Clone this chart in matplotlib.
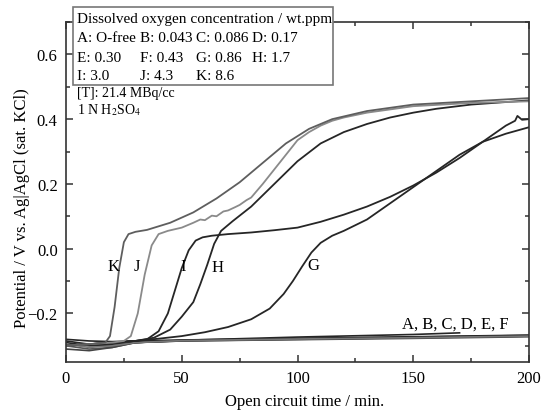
import matplotlib
matplotlib.use('agg')
import matplotlib.pyplot as plt
from matplotlib.patches import Rectangle
from matplotlib.ticker import MultipleLocator

plt.rcParams['font.family'] = ['Liberation Serif', 'DejaVu Serif']
plt.rcParams['mathtext.fontset'] = 'stix'

# curve data (time in min, potential in V)
k_t = [0, 10, 17, 19, 21, 23, 25, 27, 30, 35, 45, 55, 65, 75, 85, 95, 105, 115, 130, 150, 175, 200]
k_v = [-0.30, -0.295, -0.29, -0.27, -0.18, -0.06, 0.02, 0.045, 0.052, 0.058, 0.08, 0.112, 0.155,
       0.205, 0.265, 0.325, 0.37, 0.40, 0.425, 0.445, 0.455, 0.465]

j_t = [0, 10, 20, 25, 28, 31, 34, 37, 40, 44, 50, 55, 58, 60, 63, 65, 68, 70, 73, 75, 78, 80, 85,
       90, 95, 100, 105, 110, 115, 120, 130, 150, 175, 200]
j_v = [-0.30, -0.295, -0.29, -0.285, -0.27, -0.2, -0.08, 0.01, 0.045, 0.055, 0.065, 0.08, 0.09,
       0.088, 0.102, 0.1, 0.115, 0.118, 0.128, 0.135, 0.15, 0.158, 0.2, 0.245, 0.29, 0.335, 0.36,
       0.38, 0.395, 0.405, 0.42, 0.44, 0.45, 0.455]

i_t = [0, 10, 20, 30, 35, 40, 44, 47, 50, 53, 56, 59, 63, 70, 80, 90, 100, 110, 120, 130, 140,
       150, 160, 170, 180, 190, 194, 195, 197, 200]
i_v = [-0.30, -0.295, -0.29, -0.285, -0.28, -0.255, -0.2, -0.13, -0.06, -0.005, 0.025, 0.035,
       0.04, 0.045, 0.05, 0.057, 0.065, 0.083, 0.105, 0.13, 0.16, 0.195, 0.235, 0.28, 0.33, 0.38,
       0.395, 0.41, 0.398, 0.40]

h_t = [0, 10, 20, 30, 38, 45, 50, 55, 58, 61, 64, 67, 72, 80, 90, 100, 110, 120, 130, 140, 150,
       160, 175, 200]
h_v = [-0.30, -0.295, -0.29, -0.285, -0.275, -0.25, -0.21, -0.165, -0.11, -0.05, 0.015, 0.055,
       0.085, 0.13, 0.2, 0.27, 0.325, 0.36, 0.385, 0.405, 0.42, 0.432, 0.445, 0.458]

g_t = [0, 10, 20, 30, 40, 50, 60, 70, 80, 88, 94, 98, 102, 106, 110, 115, 120, 130, 140, 150, 160,
       170, 180, 190, 200]
g_v = [-0.30, -0.295, -0.29, -0.285, -0.278, -0.27, -0.258, -0.242, -0.218, -0.185, -0.14, -0.1,
       -0.055, -0.012, 0.018, 0.04, 0.055, 0.09, 0.14, 0.19, 0.24, 0.29, 0.33, 0.355, 0.375]

flat_t = [0, 10, 20, 30, 50, 100, 150, 200]
a_v = [-0.28, -0.285, -0.287, -0.285, -0.282, -0.277, -0.272, -0.267]
b_v = [-0.30, -0.31, -0.305, -0.29, -0.285, -0.28, -0.275, -0.27]
c_v = [-0.285, -0.295, -0.295, -0.29, -0.284, -0.278, -0.273, -0.268]
d_t = [0, 10, 20, 30, 50, 100, 150, 170]
d_v = [-0.29, -0.30, -0.30, -0.29, -0.283, -0.273, -0.265, -0.26]
e_v = [-0.31, -0.315, -0.305, -0.29, -0.285, -0.281, -0.277, -0.272]
f_v = [-0.295, -0.305, -0.30, -0.29, -0.284, -0.279, -0.275, -0.27]

legend_rows = [
    ['A: O-free', 'B: 0.043', 'C: 0.086', 'D: 0.17'],
    ['E: 0.30', 'F: 0.43', 'G: 0.86', 'H: 1.7'],
    ['I: 3.0', 'J: 4.3', 'K: 8.6'],
]

fig = plt.figure(figsize=(5.41, 4.14), dpi=100)
ax = fig.add_axes([66 / 541, 1 - 363 / 414, 463 / 541, 340 / 414])

dark = '#262626'
for v, t, c in [(a_v, flat_t, dark), (b_v, flat_t, '#555555'), (c_v, flat_t, dark),
                (d_v, d_t, dark), (e_v, flat_t, '#444444'), (f_v, flat_t, '#777777')]:
    ax.plot(t, v, color=c, lw=1.2)
ax.plot(g_t, g_v, color=dark, lw=1.3)
ax.plot(h_t, h_v, color=dark, lw=1.3)
ax.plot(i_t, i_v, color=dark, lw=1.3)
ax.plot(j_t, j_v, color='#8a8a8a', lw=1.3)
ax.plot(k_t, k_v, color='#5e5e5e', lw=1.3)

ax.text(20.5, -0.053, 'K', fontsize=12, ha='center', va='center')
ax.text(30.7, -0.053, 'J', fontsize=12, ha='center', va='center')
ax.text(50.5, -0.053, 'I', fontsize=12, ha='center', va='center')
ax.text(65.5, -0.058, 'H', fontsize=12, ha='center', va='center')
ax.text(106.8, -0.05, 'G', fontsize=12, ha='center', va='center')
ax.text(168, -0.232, 'A, B, C, D, E, F', fontsize=12, ha='center', va='center')

ax.set_xlim(0, 200)
ax.set_ylim(-0.35, 0.70)
ax.xaxis.set_major_locator(MultipleLocator(50))
ax.xaxis.set_minor_locator(MultipleLocator(25))
ax.yaxis.set_major_locator(MultipleLocator(0.2))
ax.yaxis.set_minor_locator(MultipleLocator(0.1))
ax.tick_params(which='both', direction='in', top=True, right=True, labelsize=12, pad=6,
               color='#333333')
ax.tick_params(which='major', length=5, width=1.1)
ax.tick_params(which='minor', length=3, width=1.1)
for s in ax.spines.values():
    s.set_color('#333333')
    s.set_linewidth(1.2)

ax.set_xlabel('Open circuit time / min.', fontsize=12)
ax.set_ylabel('Potential / V vs. Ag|AgCl (sat. KCl)', fontsize=12)
ax.xaxis.set_label_coords(0.516, -0.092)
ax.yaxis.set_label_coords(-0.077, 0.456)

# legend box sitting over the top spine
fig.add_artist(Rectangle((73 / 541, 1 - 86 / 414), 260 / 541, 78 / 414,
                         transform=fig.transFigure, facecolor='white',
                         edgecolor='#777777', lw=1.2, zorder=3))
fig.text(77 / 541, 1 - 20 / 414, 'Dissolved oxygen concentration / wt.ppm', fontsize=11,
         va='center', zorder=4)
col_x = [77, 140, 196, 252]
row_y = [39, 58, 76]
for row, y in zip(legend_rows, row_y):
    for lab, x in zip(row, col_x):
        fig.text(x / 541, 1 - y / 414, lab, fontsize=11, va='center', zorder=4)

fig.text(77 / 541, 1 - 94 / 414, '[T]: 21.4 MBq/cc', fontsize=10, va='center', zorder=4)
fig.text(77 / 541, 1 - 110 / 414, r'1 N H$_2$SO$_4$', fontsize=10, va='center', zorder=4)

plt.savefig('out.png', dpi=100)
